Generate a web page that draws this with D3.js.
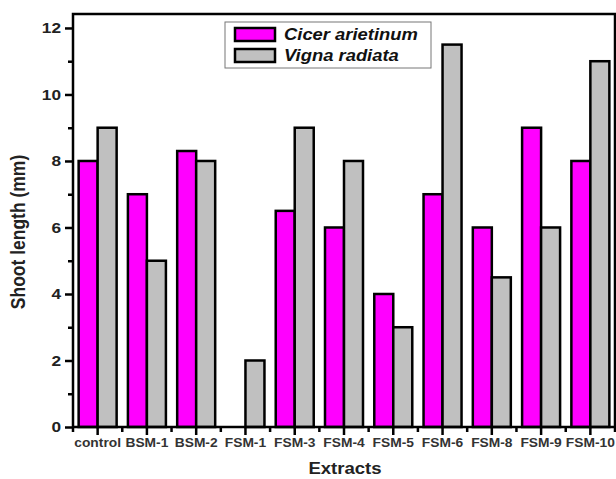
<!DOCTYPE html>
<html><head><meta charset="utf-8">
<script src="https://cdn.jsdelivr.net/npm/d3@7"></script>
<style>body{margin:0;background:#fff;}svg{display:block;font-family:Arial,"Liberation Sans",sans-serif;}</style>
</head><body>
<svg id="c" width="616" height="479"></svg>
<script>
const categories = ["control","BSM-1","BSM-2","FSM-1","FSM-3","FSM-4","FSM-5","FSM-6","FSM-8","FSM-9","FSM-10"];
const cicer = [8, 7, 8.3, 0, 6.5, 6, 4, 7, 6, 9, 8];
const vigna = [9, 5, 8, 2, 9, 8, 3, 11.5, 4.5, 6, 11];
const seriesNames = ["Cicer arietinum","Vigna radiata"];
const seriesColors = ["#ff00ff","#c0c0c0"];
const yTicks = [0,2,4,6,8,10,12];
const yMinor = [1,3,5,7,9,11];

const svg = d3.select("#c");
const L = 73, R = 615, T = 14, B = 427;
const x = d3.scaleBand().domain(categories).range([L, R]).paddingInner(0).paddingOuter(0);
const y = d3.scaleLinear().domain([0, 12.42]).range([B, T]);
const barW = 19;
const SX = 1.15;

const g = svg.append("g");
categories.forEach((c,i)=>{
  const cx = x(c) + x.bandwidth()/2;
  [cicer[i], vigna[i]].forEach((v,k)=>{
    if (v <= 0) return;
    g.append("rect")
      .attr("x", k===0 ? cx - barW : cx)
      .attr("y", y(v))
      .attr("width", barW)
      .attr("height", B - y(v))
      .attr("fill", seriesColors[k])
      .attr("stroke", "#000")
      .attr("stroke-width", 2.5);
  });
});

// frame
svg.append("rect").attr("x", L).attr("y", T).attr("width", R - L).attr("height", B - T)
  .attr("fill","none").attr("stroke","#000").attr("stroke-width",2.5);

// y axis
const ya = svg.append("g").attr("transform", `translate(${L},0)`)
  .call(d3.axisLeft(y).tickValues(yTicks).tickSize(8).tickFormat(d3.format("d")));
ya.select(".domain").remove();
ya.selectAll(".tick line").attr("stroke-width",2.5);
ya.selectAll(".tick text").attr("font-size","15px").attr("font-weight","bold").attr("fill","#222")
  .attr("x",-12/SX).attr("transform",`scale(${SX},1)`)
  .attr("font-family","Arial, 'Liberation Sans', sans-serif");
const yam = svg.append("g").attr("transform", `translate(${L},0)`)
  .call(d3.axisLeft(y).tickValues(yMinor).tickSize(5).tickFormat(""));
yam.select(".domain").remove();
yam.selectAll(".tick line").attr("stroke-width",2.5);

// x axis
const xa = svg.append("g").attr("transform", `translate(0,${B})`)
  .call(d3.axisBottom(x).tickSize(8));
xa.select(".domain").remove();
xa.selectAll(".tick line").attr("stroke-width",2.5);
xa.selectAll(".tick text").attr("font-size","12px").attr("font-weight","bold").attr("fill","#333").attr("y",11)
  .attr("transform",`scale(${SX},1)`)
  .attr("font-family","Arial, 'Liberation Sans', sans-serif");
const bounds = categories.map(c => x(c)).concat([R]);
svg.append("g").selectAll("line").data(bounds).join("line")
  .attr("x1", d=>d).attr("x2", d=>d).attr("y1", B).attr("y2", B+5)
  .attr("stroke","#000").attr("stroke-width",2.5);

// axis titles
svg.append("text").attr("transform","translate(25,232) rotate(-90) scale(1,1.12)")
  .attr("text-anchor","middle").attr("font-size","17.5px").attr("font-weight","bold").attr("fill","#222")
  .text("Shoot length (mm)");
svg.append("text").attr("transform",`translate(345,474) scale(1.16,1)`).attr("text-anchor","middle")
  .attr("font-size","16px").attr("font-weight","bold").attr("fill","#222").text("Extracts");

// legend
const lg = svg.append("g");
lg.append("rect").attr("x",225).attr("y",22).attr("width",206).attr("height",46)
  .attr("fill","#fff").attr("stroke","#777").attr("stroke-width",1);
seriesNames.forEach((n,k)=>{
  lg.append("rect").attr("x",235).attr("y",28 + k*21).attr("width",40).attr("height",13)
    .attr("fill",seriesColors[k]).attr("stroke","#000").attr("stroke-width",2.5);
  lg.append("text").attr("transform",`translate(284,${40 + k*21}) scale(${SX},1)`).attr("font-size","16px")
    .attr("font-weight","bold").attr("font-style","italic").attr("fill","#111").text(n);
});
</script>
</body></html>
